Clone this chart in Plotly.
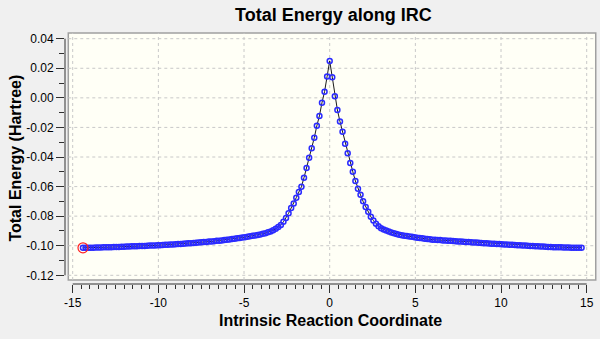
import numpy as np
import plotly.graph_objects as go

# IRC path sampled at a fixed step along the reaction coordinate
irc_step = 0.15
ts_energy = 0.0250  # transition state (Hartree, relative)

# reverse direction, moving away from the TS (k = 1 .. 96)
energy_reverse = [
    0.0145, 0.0042, -0.0033, -0.0122, -0.0189, -0.0270, -0.0340, -0.0405, -0.0475, -0.0540,
    -0.0601, -0.0637, -0.0675, -0.0714, -0.0745, -0.0781, -0.0812, -0.0838, -0.0859, -0.0874,
    -0.0885, -0.0895, -0.0903, -0.0909, -0.0915, -0.0919, -0.0924, -0.0927, -0.0930, -0.0933,
    -0.0936, -0.0939, -0.0942, -0.0945, -0.0947, -0.0950, -0.0953, -0.0955, -0.0958, -0.0960,
    -0.0962, -0.0964, -0.0966, -0.0967, -0.0969, -0.0971, -0.0972, -0.0974, -0.0975, -0.0977,
    -0.0978, -0.0980, -0.0981, -0.0983, -0.0984, -0.0985, -0.0986, -0.0988, -0.0989, -0.0990,
    -0.0991, -0.0992, -0.0993, -0.0994, -0.0995, -0.0996, -0.0997, -0.0998, -0.0999, -0.0999,
    -0.1000, -0.1001, -0.1002, -0.1002, -0.1003, -0.1004, -0.1004, -0.1005, -0.1006, -0.1007,
    -0.1007, -0.1008, -0.1008, -0.1009, -0.1010, -0.1010, -0.1011, -0.1011, -0.1012, -0.1012,
    -0.1012, -0.1013, -0.1013, -0.1013, -0.1014, -0.1014,
]

# forward direction, moving away from the TS (k = 1 .. 98)
energy_forward = [
    0.0140, 0.0010, -0.0082, -0.0160, -0.0229, -0.0310, -0.0375, -0.0440, -0.0500, -0.0562,
    -0.0615, -0.0656, -0.0700, -0.0738, -0.0770, -0.0804, -0.0829, -0.0851, -0.0868, -0.0881,
    -0.0890, -0.0897, -0.0904, -0.0910, -0.0915, -0.0920, -0.0925, -0.0929, -0.0932, -0.0935,
    -0.0937, -0.0940, -0.0943, -0.0946, -0.0948, -0.0950, -0.0952, -0.0955, -0.0957, -0.0959,
    -0.0960, -0.0961, -0.0962, -0.0964, -0.0965, -0.0966, -0.0967, -0.0968, -0.0969, -0.0971,
    -0.0972, -0.0973, -0.0974, -0.0975, -0.0977, -0.0978, -0.0979, -0.0980, -0.0982, -0.0983,
    -0.0984, -0.0985, -0.0986, -0.0987, -0.0988, -0.0989, -0.0990, -0.0991, -0.0992, -0.0993,
    -0.0994, -0.0995, -0.0996, -0.0997, -0.0998, -0.0999, -0.1000, -0.1001, -0.1002, -0.1003,
    -0.1004, -0.1005, -0.1006, -0.1007, -0.1008, -0.1009, -0.1010, -0.1010, -0.1011, -0.1011,
    -0.1012, -0.1012, -0.1012, -0.1013, -0.1013, -0.1013, -0.1013, -0.1013,
]

x_ticks = [-15, -10, -5, 0, 5, 10, 15]
y_ticks = [0.04, 0.02, 0.00, -0.02, -0.04, -0.06, -0.08, -0.10, -0.12]

# assemble the full path ordered along the coordinate
n_rev = len(energy_reverse)
n_fwd = len(energy_forward)
irc_x = ([-irc_step * k for k in range(n_rev, 0, -1)] + [0.0]
         + [irc_step * k for k in range(1, n_fwd + 1)])
irc_e = list(reversed(energy_reverse)) + [ts_energy] + energy_forward

FONT = "Liberation Sans, Arial, sans-serif"
PAGE = "#f0f0f0"

fig = go.Figure()
fig.add_trace(go.Scatter(
    x=irc_x, y=irc_e, mode="lines+markers",
    line=dict(color="#1a1a1a", width=1),
    marker=dict(symbol="circle-open", size=5, color="#2b2bff", line=dict(width=1.5)),
    hoverinfo="x+y", showlegend=False,
))
# highlighted current point (path start)
fig.add_trace(go.Scatter(
    x=[irc_x[0]], y=[irc_e[0]], mode="markers",
    marker=dict(symbol="circle-open", size=10, color="#ff2020", line=dict(width=1.2)),
    hoverinfo="skip", showlegend=False,
))

shapes = []
# ivory plotting frame
shapes.append(dict(type="rect", xref="paper", yref="paper", x0=0.0062, x1=0.9995,
                   y0=0.016, y1=1.0, fillcolor="#fffff6",
                   line=dict(color="#a0a0a0", width=1.5), layer="below"))
# dashed grid inside the frame
for xv in x_ticks:
    shapes.append(dict(type="line", xref="x", yref="paper", x0=xv, x1=xv, y0=0.016, y1=1.0,
                       line=dict(color="#c8c8c8", width=1, dash="3px,3px"), layer="below"))
for yv in y_ticks:
    shapes.append(dict(type="line", xref="paper", yref="y", x0=0.0062, x1=0.9995, y0=yv, y1=yv,
                       line=dict(color="#c8c8c8", width=1, dash="3px,3px"), layer="below"))
# axis lines spanning the tick range only
shapes.append(dict(type="line", xref="x", yref="paper", x0=x_ticks[0], x1=x_ticks[-1], y0=0, y1=0,
                   line=dict(color="#303030", width=1)))
shapes.append(dict(type="line", xref="paper", yref="y", x0=0, x1=0, y0=y_ticks[-1], y1=y_ticks[0],
                   line=dict(color="#303030", width=1)))

fig.update_layout(
    width=600, height=339,
    margin=dict(l=65, r=4, t=33, b=55),
    paper_bgcolor=PAGE, plot_bgcolor=PAGE,
    font=dict(family=FONT, size=12, color="#000000"),
    shapes=shapes,
    annotations=[
        dict(text="<b>Total Energy along IRC</b>", xref="paper", yref="paper",
             x=0.505, y=1.07, xanchor="center", yanchor="middle", showarrow=False,
             font=dict(family=FONT, size=18, color="#000")),
        dict(text="<b>Intrinsic Reaction Coordinate</b>", xref="paper", yref="paper",
             x=0.5, y=-0.147, xanchor="center", yanchor="middle", showarrow=False,
             font=dict(family=FONT, size=16, color="#000")),
        dict(text="<b>Total Energy (Hartree)</b>", xref="paper", yref="paper",
             x=-0.094, y=0.5, xanchor="center", yanchor="middle", showarrow=False,
             textangle=-90, font=dict(family=FONT, size=16, color="#000")),
    ],
    xaxis=dict(range=[-15.449, 15.543], tickvals=x_ticks, ticktext=[str(v) for v in x_ticks],
               ticks="outside", ticklen=8, tickwidth=1, tickcolor="#303030",
               showgrid=False, zeroline=False, showline=False,
               minor=dict(tickvals=list(np.arange(-15, 15.01, 0.5)), ticks="outside",
                          ticklen=4, tickwidth=1, tickcolor="#303030", showgrid=False),
               tickfont=dict(size=12)),
    yaxis=dict(range=[-0.12588, 0.04385], tickvals=y_ticks,
               ticktext=[f"{v:.2f}" for v in y_ticks],
               ticks="outside", ticklen=8, tickwidth=1, tickcolor="#303030",
               showgrid=False, zeroline=False, showline=False,
               minor=dict(tickvals=list(np.arange(-0.12, 0.0401, 0.01)), ticks="outside",
                          ticklen=5, tickwidth=1, tickcolor="#303030", showgrid=False),
               tickfont=dict(size=12)),
)

fig.write_html("out.html")
